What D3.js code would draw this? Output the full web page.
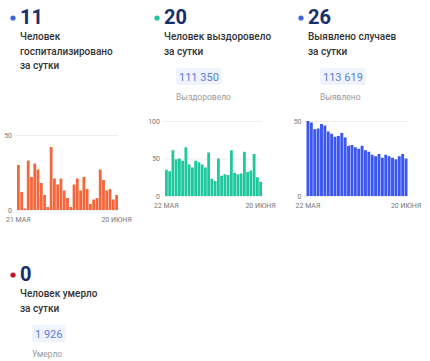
<!DOCTYPE html>
<html lang="ru">
<head>
<meta charset="UTF-8">
<title>Covid stats</title>
<script src="https://d3js.org/d3.v7.min.js"></script>
<style>
  body { margin: 0; background: #fff; }
  text { font-family: Roboto, "Noto Sans", sans-serif; }
</style>
</head>
<body>
<svg id="board" width="430" height="361"></svg>
<script>
// --- data ---
const hospDays = ["21.05","22.05","23.05","24.05","25.05","26.05","27.05","28.05","29.05","30.05","31.05",
  "01.06","02.06","03.06","04.06","05.06","06.06","07.06","08.06","09.06","10.06",
  "11.06","12.06","13.06","14.06","15.06","16.06","17.06","18.06","19.06","20.06"];
const hospValues = [30, 12, 1, 33, 22, 31, 27, 18, 10, 2, 42, 21, 17, 21, 13, 8, 2, 17, 21, 13, 22, 14, 4, 7, 8, 27, 20, 13, 14, 7, 10];

const days30 = hospDays.slice(1);
const recovValues = [35, 33, 61, 49, 50, 47, 65, 42, 38, 47, 45, 42, 38, 58, 23, 20, 50, 27, 29, 28, 61, 31, 29, 30, 59, 32, 34, 56, 25, 19];
const casesValues = [50, 49, 44.5, 45, 48, 47, 43, 41.5, 39.5, 40, 42, 39, 33.5, 34, 32.5, 31.5, 33.5, 30.5, 29.5, 27.5, 26.5, 28, 25.5, 27.5, 26.5, 25.5, 24.5, 26.5, 28, 25];

const headNumbers = ["11", "20", "26", "0"];
const headLines = [["Человек", "госпитализировано", "за сутки"], ["Человек выздоровело", "за сутки"],
  ["Выявлено случаев", "за сутки"], ["Человек умерло", "за сутки"]];
const totals = [null, "111 350", "113 619", "1 926"];
const totalLabels = [null, "Выздоровело", "Выявлено", "Умерло"];
const dotColors = ["#3f63dc", "#1fc59b", "#3f63dc", "#c8102e"];
const xLabels = [["21 МАЯ", "20 ИЮНЯ"], ["22 МАЯ", "20 ИЮНЯ"], ["22 МАЯ", "20 ИЮНЯ"]];

const svg = d3.select("#board");

// --- header blocks ---
const heads = [
  { x: 20, y: 0 }, { x: 164, y: 0 }, { x: 308, y: 0 }, { x: 20, y: 257 }
];
heads.forEach((h, i) => {
  const g = svg.append("g").attr("transform", `translate(${h.x},${h.y})`);
  g.append("circle").attr("cx", -7).attr("cy", 18).attr("r", 2.6).attr("fill", dotColors[i]);
  g.append("text").attr("x", 0).attr("y", 24)
    .attr("font-size", 20).attr("font-weight", 700).attr("fill", "#172f6a")
    .text(headNumbers[i]);
  headLines[i].forEach((line, j) => {
    g.append("text").attr("x", 0).attr("y", 40 + j * 14.5)
      .attr("font-size", 10).attr("font-weight", 500).attr("fill", "#333")
      .text(line);
  });
  if (totals[i]) {
    const tx = 12;
    const t = g.append("text").attr("x", tx + 3).attr("y", 80.5)
      .attr("font-size", 11).attr("fill", "#5b7fd6").text(totals[i]);
    const w = t.node().getComputedTextLength();
    g.insert("rect", "text:last-of-type")
      .attr("x", tx).attr("y", 68).attr("width", w + 6).attr("height", 17)
      .attr("rx", 2).attr("fill", "#eef3fc");
    g.append("text").attr("x", tx).attr("y", 100)
      .attr("font-size", 8.5).attr("fill", "#9a9a9a").text(totalLabels[i]);
  }
});

// --- bar charts ---
const charts = [
  { days: hospDays, values: hospValues, color: "#f4673c", x0: 17, x1: 118, y0: 210, y1: 135, max: 50, ticks: [0, 50], labels: xLabels[0], ly: 222 },
  { days: days30, values: recovValues, color: "#1ec89c", x0: 165, x1: 262, y0: 196, y1: 121, max: 100, ticks: [0, 50, 100], labels: xLabels[1], ly: 208 },
  { days: days30, values: casesValues, color: "#3b57f0", x0: 306.5, x1: 407.5, y0: 196, y1: 121, max: 50, ticks: [0, 50], labels: xLabels[2], ly: 208 }
];

charts.forEach(c => {
  const x = d3.scaleBand().domain(c.days).range([c.x0, c.x1]).paddingInner(0.14).paddingOuter(0);
  const y = d3.scaleLinear().domain([0, c.max]).range([c.y0, c.y1]);
  const g = svg.append("g");

  // gridlines
  g.selectAll("line.grid").data(c.ticks).join("line")
    .attr("class", "grid")
    .attr("x1", c.x0 - 2).attr("x2", c.x1)
    .attr("y1", d => y(d) + 0.5).attr("y2", d => y(d) + 0.5)
    .attr("stroke", "#eeeeee");

  // y tick labels
  g.selectAll("text.ytick").data(c.ticks).join("text")
    .attr("class", "ytick")
    .attr("x", c.x0 - 5).attr("y", d => y(d) + 2.5)
    .attr("text-anchor", "end").attr("font-size", 7).attr("fill", "#777")
    .text(d => d);

  g.selectAll("rect.bar").data(c.values).join("rect")
    .attr("class", "bar")
    .attr("x", (d, i) => x(c.days[i]))
    .attr("width", x.bandwidth())
    .attr("y", d => y(d))
    .attr("height", d => y(0) - y(d))
    .attr("fill", c.color);

  const ends = [c.days[0], c.days[c.days.length - 1]];
  g.selectAll("text.xtick").data(ends).join("text")
    .attr("class", "xtick")
    .attr("x", d => x(d) + x.bandwidth() / 2).attr("y", c.ly)
    .attr("text-anchor", "middle").attr("font-size", 7).attr("fill", "#777")
    .text((d, i) => c.labels[i]);
});
</script>
</body>
</html>
